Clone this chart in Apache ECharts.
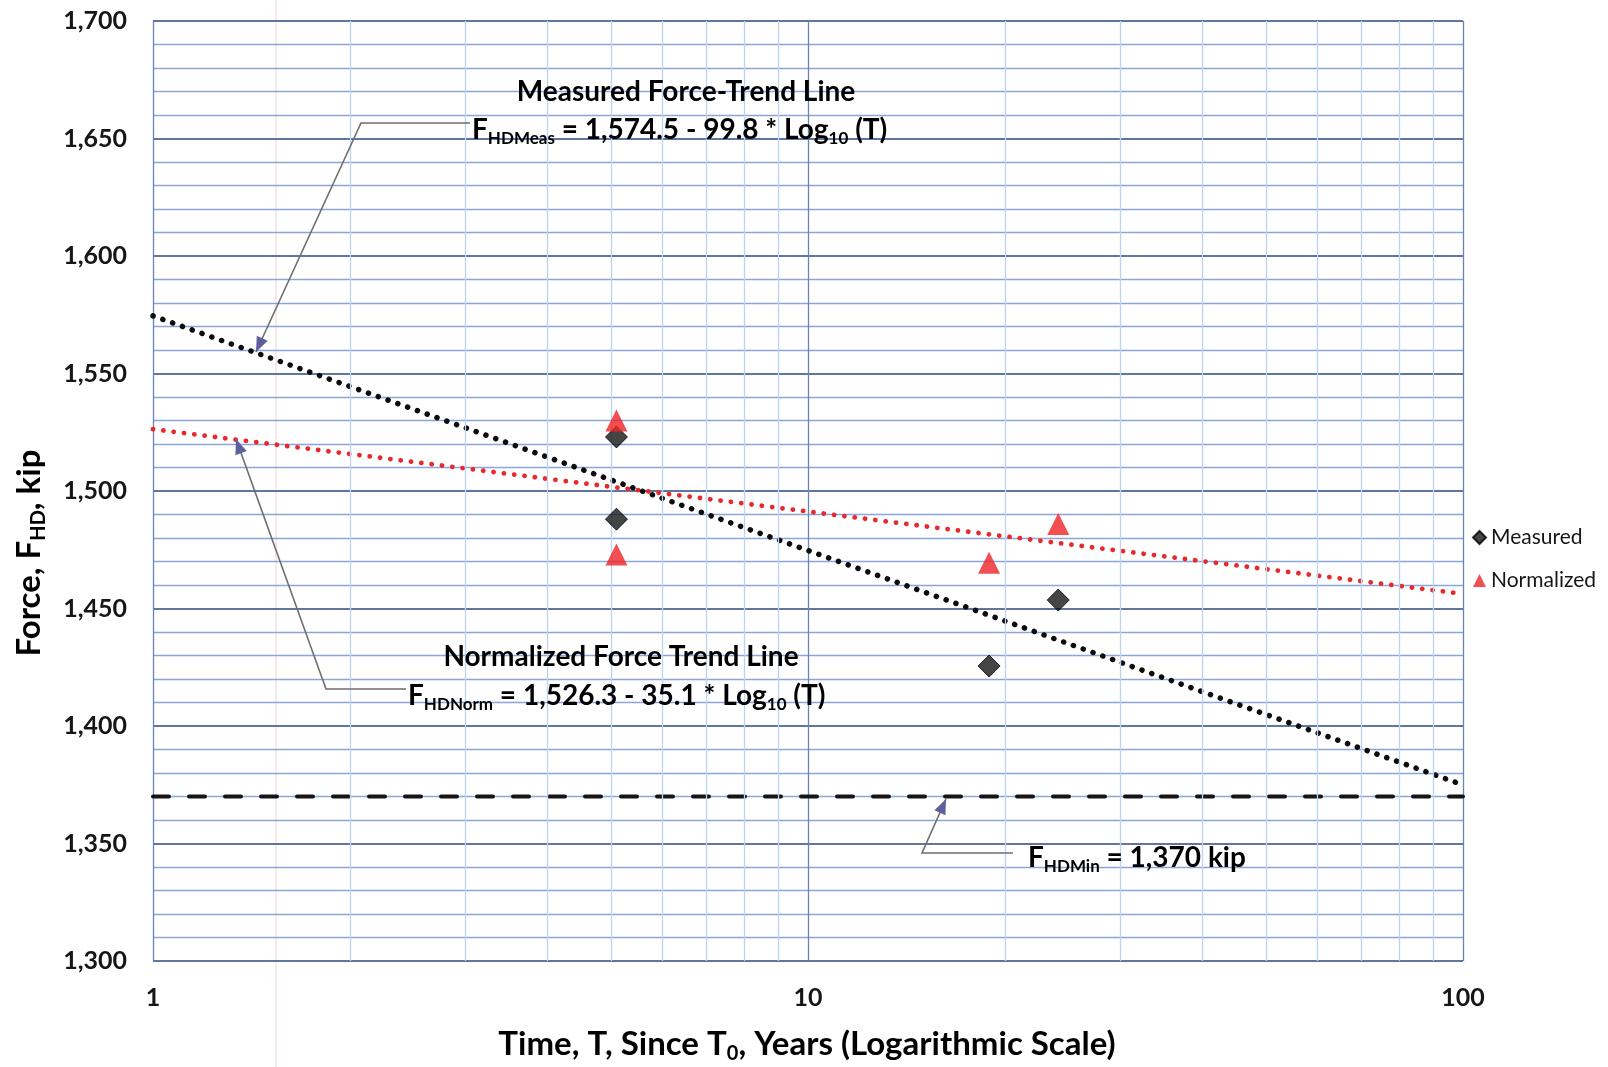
<!DOCTYPE html>
<html><head><meta charset="utf-8">
<script src="https://cdn.jsdelivr.net/npm/echarts@6/dist/echarts.min.js"></script>
<style>html,body{margin:0;padding:0;background:#fff}#c{width:1608px;height:1067px}</style>
</head><body><div id="c"></div>
<script>
// ---- data ----
const seriesNames = ['Measured', 'Normalized'];
const measured = [[5.1, 1523], [5.1, 1488], [18.9, 1425.5], [24.1, 1453.6]];
const normalized = [[5.1, 1530], [5.1, 1473], [18.9, 1469.5], [24.1, 1486]];
const measuredTrend = [[1, 1574.5], [100, 1374.9]];
const normalizedTrend = [[1, 1526.3], [100, 1456.2]];
const minForce = [[1, 1370], [100, 1370]];
const xMinorGrid = [2, 3, 4, 5, 6, 7, 8, 9, 20, 30, 40, 50, 60, 70, 80, 90];
const xTickLabels = ['1', '10', '100'];

const FONT = 'Lato, "Open Sans", sans-serif';
const TXT = '#161616';

function arrowHead(tip, from, len, half) {
  const dx = tip[0] - from[0], dy = tip[1] - from[1];
  const d = Math.hypot(dx, dy), ux = dx / d, uy = dy / d;
  const bx = tip[0] - ux * len, by = tip[1] - uy * len;
  return [tip, [bx - uy * half, by + ux * half], [bx + uy * half, by - ux * half]];
}
function leader(points) {
  const n = points.length;
  return [
    { type: 'polyline', z: 50, shape: { points: points }, style: { stroke: '#6e6e6e', lineWidth: 1.6, fill: null } },
    { type: 'polygon', z: 51, shape: { points: arrowHead(points[n - 1], points[n - 2], 15, 6) }, style: { fill: '#5d609c' } }
  ];
}
const rich = {
  m: { fontFamily: FONT, fontWeight: 'bold', fontSize: 28, color: TXT, lineHeight: 34 },
  s: { fontFamily: FONT, fontWeight: 'bold', fontSize: 17, color: TXT, verticalAlign: 'bottom' }
};
function rtext(x, y, text, align) {
  return { type: 'text', z: 52, x: x, y: y,
    style: { text: text, rich: rich, align: align, verticalAlign: 'middle' } };
}

const chart = echarts.init(document.getElementById('c'), null, { renderer: 'canvas' });
chart.setOption({
  backgroundColor: '#ffffff',
  animation: false,
  grid: { left: 153, right: 145, top: 21, bottom: 106 },
  xAxis: {
    type: 'log', logBase: 10, min: 1, max: 100,
    axisLine: { show: false }, axisTick: { show: false },
    axisLabel: { fontFamily: FONT, fontWeight: 'bold', fontSize: 25, color: TXT, margin: 24,
      formatter: v => xTickLabels[Math.round(Math.log10(v))] },
    splitLine: { show: true, lineStyle: { color: '#6f82b6', width: 1.3 } }
  },
  yAxis: {
    type: 'value', min: 1300, max: 1700, interval: 50,
    axisLine: { show: false }, axisTick: { show: false },
    axisLabel: { fontFamily: FONT, fontWeight: 'bold', fontSize: 25, color: TXT, margin: 26,
      formatter: v => v.toLocaleString('en-US') },
    splitLine: { show: true, lineStyle: { color: '#61759f', width: 1.8 } },
    minorTick: { show: false, splitNumber: 5 },
    minorSplitLine: { show: true, lineStyle: { color: '#8aa5da', width: 1.3 } }
  },
  legend: {
    orient: 'vertical', left: 1467, top: 522, itemWidth: 13, itemHeight: 13, itemGap: 22,
    textStyle: { fontFamily: FONT, fontSize: 21, color: TXT },
    data: [{ name: seriesNames[0], icon: 'diamond' }, { name: seriesNames[1], icon: 'triangle' }]
  },
  series: [
    { type: 'line', data: [], z: 1, silent: true,
      markLine: { silent: true, symbol: 'none', label: { show: false }, animation: false,
        lineStyle: { color: '#bcd4f2', width: 1.3, type: 'solid' },
        data: xMinorGrid.map(v => ({ xAxis: v })) } },
    { type: 'line', data: minForce, z: 3, symbol: 'none', silent: true,
      lineStyle: { color: '#151515', width: 4, type: [16, 20], cap: 'round' } },
    { type: 'line', data: normalizedTrend, z: 4, symbol: 'none', silent: true,
      lineStyle: { color: '#e8292b', width: 4.8, type: [0.1, 10.3], cap: 'round' } },
    { type: 'line', data: measuredTrend, z: 4, symbol: 'none', silent: true,
      lineStyle: { color: '#0c0c0c', width: 5.5, type: [0.1, 10.3], cap: 'round' } },
    { name: seriesNames[0], type: 'scatter', data: measured, z: 6, symbol: 'diamond', symbolSize: 22,
      itemStyle: { color: '#161616', borderColor: '#000', borderWidth: 1 } },
    { name: seriesNames[1], type: 'scatter', data: normalized, z: 6, symbol: 'triangle', symbolSize: 22,
      itemStyle: { color: '#ee2326' } }
  ],
  graphic: [].concat(
    [{ type: 'line', z: -1, shape: { x1: 276, y1: 0, x2: 276, y2: 1067 }, style: { stroke: '#f9e8e8', lineWidth: 2 } }],
    leader([[470, 123], [361, 123], [256, 352]]),
    leader([[406, 689], [326, 689], [236, 439]]),
    leader([[1013, 853], [922, 853], [946, 799]]),
    [
      rtext(686, 92, '{m|Measured Force-Trend Line}', 'center'),
      rtext(472, 130, '{m|F}{s|HDMeas}{m| = 1,574.5 - 99.8 * Log}{s|10}{m| (T)}', 'left'),
      rtext(621, 657, '{m|Normalized Force Trend Line}', 'center'),
      rtext(408, 696, '{m|F}{s|HDNorm}{m| = 1,526.3 - 35.1 * Log}{s|10}{m| (T)}', 'left'),
      rtext(1028, 858, '{m|F}{s|HDMin}{m| = 1,370 kip}', 'left'),
      { type: 'text', z: 52, x: 807, y: 1044,
        style: { text: '{t|Time, T, Since T}{u|0}{t|, Years (Logarithmic Scale)}', align: 'center', verticalAlign: 'middle',
          rich: { t: { fontFamily: FONT, fontWeight: 'bold', fontSize: 33, color: '#3d3d3d', lineHeight: 40 },
                  u: { fontFamily: FONT, fontWeight: 'bold', fontSize: 20, color: '#3d3d3d', verticalAlign: 'bottom' } } } },
      { type: 'text', z: 52, x: 29, y: 553, rotation: Math.PI / 2,
        style: { text: '{t|Force, F}{u|HD}{t|, kip}', align: 'center', verticalAlign: 'middle',
          rich: { t: { fontFamily: FONT, fontWeight: 'bold', fontSize: 33, color: '#262626', lineHeight: 40 },
                  u: { fontFamily: FONT, fontWeight: 'bold', fontSize: 20, color: '#262626', verticalAlign: 'bottom' } } } }
    ]
  )
});
</script>
</body></html>
